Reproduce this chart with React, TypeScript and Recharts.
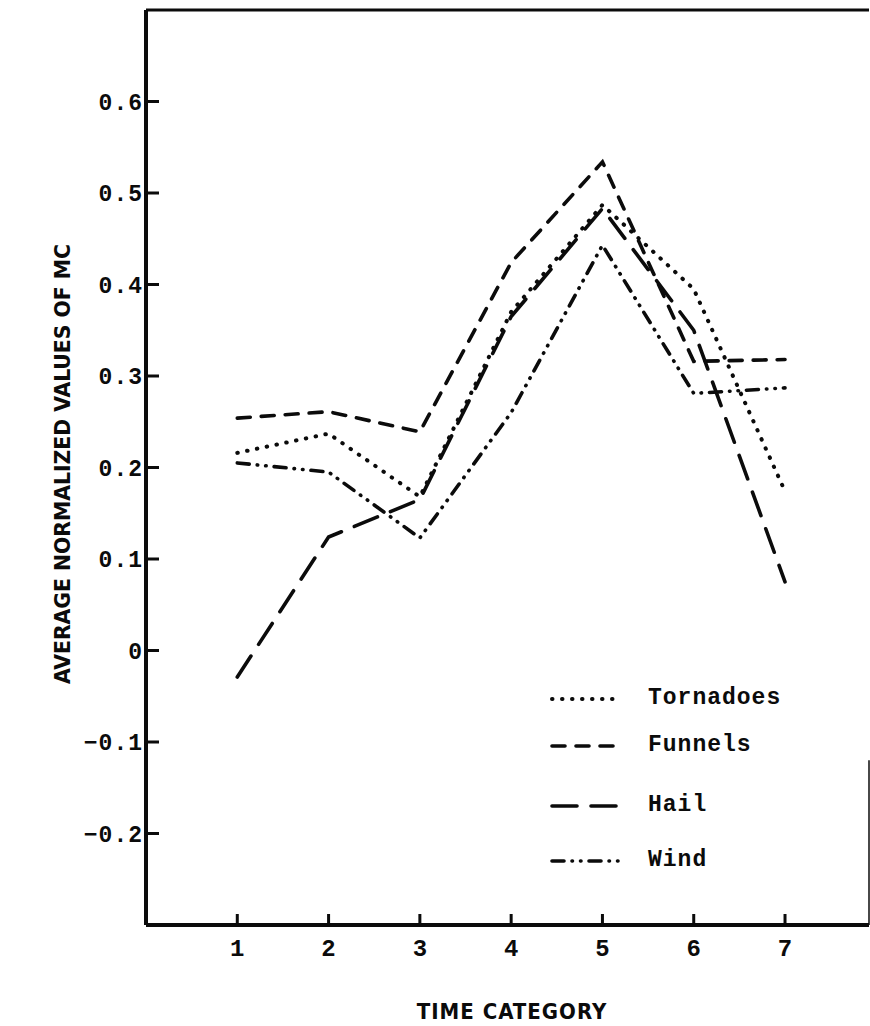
import React from "react";
import { LineChart, Line, XAxis, YAxis, ReferenceLine, Label } from "recharts";

// time categories along the x axis
const timeCategories = [1, 2, 3, 4, 5, 6, 7];

// average normalized values of MC
const tornadoes = [0.216, 0.237, 0.168, 0.37, 0.487, 0.395, 0.174];
const funnels = [0.254, 0.261, 0.239, 0.424, 0.534, 0.316, 0.318];
const hail = [-0.029, 0.124, 0.165, 0.365, 0.483, 0.35, 0.075];
const wind = [0.205, 0.195, 0.123, 0.26, 0.443, 0.281, 0.287];

const yTicks = [-0.2, -0.1, 0, 0.1, 0.2, 0.3, 0.4, 0.5, 0.6];

const INK = "#0b0b0b";
const MONO = '"Liberation Mono", "DejaVu Sans Mono", monospace';
const NARROW = '"Liberation Sans Narrow", "DejaVu Sans Condensed", "Roboto", sans-serif';

const series = [
  { key: "tornadoes", name: "Tornadoes", dash: "0.5 9.5", width: 4 },
  { key: "funnels", name: "Funnels", dash: "13 11", width: 3.6 },
  { key: "hail", name: "Hail", dash: "25 14", width: 3.6 },
  { key: "wind", name: "Wind", dash: "12 8 0.5 8 0.5 8", width: 3.6 },
];

const data = timeCategories.map((t, i) => ({
  t,
  tornadoes: tornadoes[i],
  funnels: funnels[i],
  hail: hail[i],
  wind: wind[i],
}));

const fmt = (v: number) => {
  if (v === 0) return "0";
  const s = Math.abs(v).toFixed(1);
  return v < 0 ? "\u2212" + s : s;
};

function YTick({ x, y, payload }: any) {
  return (
    <g>
      <line x1={x} x2={x + 13} y1={y} y2={y} stroke={INK} strokeWidth={3} />
      <text
        x={x - 3}
        y={y}
        dy="0.36em"
        textAnchor="end"
        fontFamily={MONO}
        fontWeight={700}
        fontSize={23}
        letterSpacing={1}
        fill={INK}
      >
        {fmt(payload.value)}
      </text>
    </g>
  );
}

function XTick({ x, y, payload }: any) {
  return (
    <g>
      <line x1={x} x2={x} y1={y} y2={y - 11} stroke={INK} strokeWidth={3} />
      <text
        x={x}
        y={y + 22}
        dy="0.36em"
        textAnchor="middle"
        fontFamily={MONO}
        fontWeight={700}
        fontSize={24}
        fill={INK}
      >
        {payload.value}
      </text>
    </g>
  );
}

// legend rows sit at uneven heights in the original
const legendRows = [698, 745, 805, 860];

function LegendBox() {
  return (
    <div style={{ position: "absolute", left: 548, top: 0, width: 300 }}>
      {series.map((s, i) => (
        <div
          key={s.key}
          style={{
            position: "absolute",
            left: 0,
            top: legendRows[i] - 14,
            height: 28,
            display: "flex",
            alignItems: "center",
            whiteSpace: "nowrap",
          }}
        >
          <svg width={80} height={28}>
            <line
              x1={4}
              x2={72}
              y1={15}
              y2={15}
              stroke={INK}
              strokeWidth={s.width}
              strokeDasharray={s.dash}
              strokeLinecap="round"
            />
          </svg>
          <span
            style={{
              marginLeft: 20,
              fontFamily: MONO,
              fontWeight: 700,
              fontSize: 23,
              letterSpacing: 1,
              color: INK,
            }}
          >
            {s.name}
          </span>
        </div>
      ))}
    </div>
  );
}

export default function App() {
  return (
    <div style={{ position: "absolute", left: 0, top: 0, width: 870, height: 1026, background: "#fff" }}>
      <LineChart
        width={870}
        height={1026}
        data={data}
        margin={{ top: 10, right: 1, left: 0, bottom: 0 }}
      >
        <XAxis
          dataKey="t"
          type="number"
          domain={[0, 7.92]}
          ticks={timeCategories}
          allowDataOverflow
          height={101}
          tickLine={false}
          tickSize={0}
          tickMargin={0}
          tick={<XTick />}
          axisLine={{ stroke: INK, strokeWidth: 4 }}
        >
          <Label
            content={() => (
              <text
                x={512}
                y={1019}
                textAnchor="middle"
                fontFamily={NARROW}
                fontWeight={700}
                fontSize={22}
                letterSpacing={1}
                fill={INK}
              >
                TIME CATEGORY
              </text>
            )}
          />
        </XAxis>
        <YAxis
          type="number"
          domain={[-0.3, 0.7]}
          ticks={yTicks}
          allowDataOverflow
          width={146}
          tickLine={false}
          tickSize={0}
          tickMargin={0}
          tick={<YTick />}
          axisLine={{ stroke: INK, strokeWidth: 4 }}
        >
          <Label
            content={() => (
              <text
                x={0}
                y={0}
                transform="translate(62, 464) rotate(-90)"
                textAnchor="middle"
                dy="0.35em"
                fontFamily={NARROW}
                fontWeight={700}
                fontSize={22}
                textLength={440}
                lengthAdjust="spacingAndGlyphs"
                fill={INK}
              >
                AVERAGE NORMALIZED VALUES OF MC
              </text>
            )}
          />
        </YAxis>
        <ReferenceLine y={0.7} stroke={INK} strokeWidth={3} />
        <ReferenceLine
          segment={[
            { x: 7.92, y: -0.3 },
            { x: 7.92, y: -0.12 },
          ]}
          stroke={INK}
          strokeWidth={1.5}
        />
        {series.map((s) => (
          <Line
            key={s.key}
            type="linear"
            dataKey={s.key}
            name={s.name}
            stroke={INK}
            strokeWidth={s.width}
            strokeDasharray={s.dash}
            strokeLinecap="round"
            dot={false}
            activeDot={false}
            isAnimationActive={false}
          />
        ))}
      </LineChart>
      <LegendBox />
    </div>
  );
}
